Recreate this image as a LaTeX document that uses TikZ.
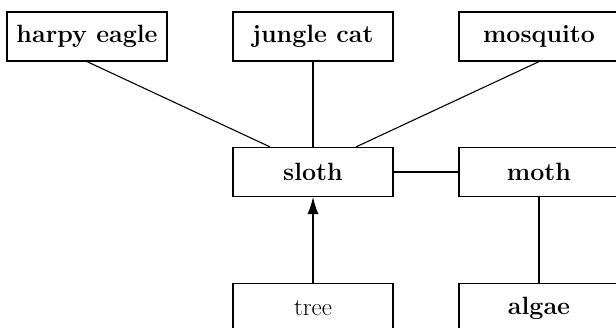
\documentclass[tikz,border=0pt]{standalone}
\usetikzlibrary{calc,arrows.meta}
\begin{document}
\begin{tikzpicture}[x=1pt,y=-1pt,
  animal/.style={draw,line width=1.2pt,minimum width=160pt,minimum height=49pt,
    inner sep=0pt,font=\fontsize{25}{29}\selectfont\bfseries},
  plant/.style={animal,font=\fontsize{25}{29}\selectfont},
  link/.style={line width=1.1pt}]
  \clip (0,0) rectangle (616,327);
  \useasboundingbox (0,0) rectangle (616,327);
  % top row
  \node[animal] (harpy)    at (87,36.5)  {harpy eagle};
  \node[animal] (jungle)   at (313,36.5) {jungle cat};
  \node[animal] (mosquito) at (539,36.5) {mosquito};
  % middle row
  \node[animal] (sloth) at (313,172) {sloth};
  \node[animal] (moth)  at (539,172) {moth};
  % bottom row
  \node[plant]  (tree)  at (313,308) {tree};
  \node[animal] (algae) at (539,308) {algae};
  % connectors
  \coordinate (slothL) at ($(sloth.north)+(-43,0)$);
  \coordinate (slothR) at ($(sloth.north)+(43,0)$);
  \draw[link] (harpy.south) -- (slothL);
  \draw[link] (jungle.south) -- (sloth.north);
  \draw[link] (mosquito.south) -- (slothR);
  \draw[link] (sloth.east) -- (moth.west);
  \draw[link] (moth.south) -- (algae.north);
  \draw[link,-{Latex[length=17pt,width=11pt]}] (tree.north) -- (sloth.south);
\end{tikzpicture}
\end{document}
